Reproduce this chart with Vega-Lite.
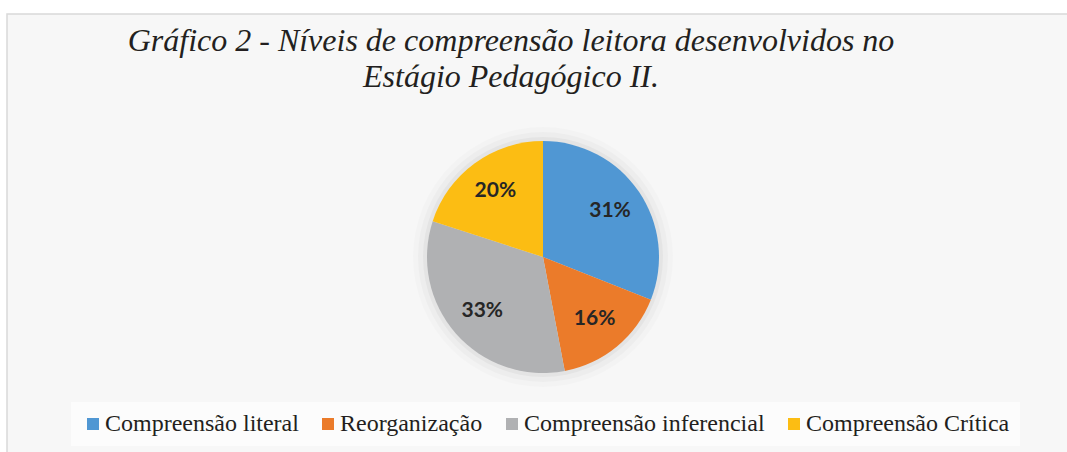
{
  "$schema": "https://vega.github.io/schema/vega-lite/v6.json",
  "width": 1072,
  "height": 486,
  "autosize": {"type": "none"},
  "padding": {"left": 7, "top": 14, "right": 0, "bottom": 0},
  "background": "#ffffff",
  "view": {"fill": "#f7f7f7", "stroke": "#d9d9d9", "strokeWidth": 1.5},
  "title": {
    "text": ["Gráfico 2 - Níveis de compreensão leitora desenvolvidos no", "Estágio Pedagógico II."],
    "anchor": "middle",
    "frame": "group",
    "offset": -80,
    "dx": -32,
    "font": "Liberation Serif",
    "fontStyle": "italic",
    "fontWeight": "normal",
    "fontSize": 32,
    "lineHeight": 36.5,
    "color": "#231f20"
  },
  "data": {
    "values": [
      {"nivel": "Compreensão literal", "v": 0.31, "o": 1},
      {"nivel": "Reorganização", "v": 0.16, "o": 2},
      {"nivel": "Compreensão inferencial", "v": 0.33, "o": 3},
      {"nivel": "Compreensão Crítica", "v": 0.20, "o": 4}
    ]
  },
  "layer": [
    {
      "data": {"values": [{"s": 1}]},
      "mark": {"type": "arc", "radius": 130, "fill": "#000000", "opacity": 0.015},
      "encoding": {"theta": {"field": "s", "type": "quantitative"}}
    },
    {
      "data": {"values": [{"s": 1}]},
      "mark": {"type": "arc", "radius": 125, "fill": "#000000", "opacity": 0.025},
      "encoding": {"theta": {"field": "s", "type": "quantitative"}}
    },
    {
      "data": {"values": [{"s": 1}]},
      "mark": {"type": "arc", "radius": 120, "fill": "#000000", "opacity": 0.035},
      "encoding": {"theta": {"field": "s", "type": "quantitative"}}
    },
    {
      "mark": {"type": "arc", "radius": 116},
      "encoding": {
        "theta": {"field": "v", "type": "quantitative", "stack": true},
        "order": {"field": "o", "type": "quantitative"},
        "color": {
          "field": "nivel",
          "type": "nominal",
          "sort": ["Compreensão literal", "Reorganização", "Compreensão inferencial", "Compreensão Crítica"],
          "scale": {
            "domain": ["Compreensão literal", "Reorganização", "Compreensão inferencial", "Compreensão Crítica"],
            "range": ["#5097d3", "#eb7b2a", "#b0b1b3", "#fcbd13"]
          },
          "legend": {
            "orient": "none",
            "legendX": 64,
            "legendY": 388,
            "direction": "horizontal",
            "columns": 4,
            "title": null,
            "symbolType": "square",
            "symbolSize": 144,
            "symbolStrokeWidth": 0,
            "labelFont": "Liberation Serif",
            "labelFontSize": 24,
            "labelColor": "#231f20",
            "labelLimit": 400,
            "labelOffset": 0,
            "columnPadding": 17,
            "fillColor": "#fcfcfc",
            "padding": 10
          }
        }
      }
    },
    {
      "mark": {"type": "text", "radius": 81, "font": "Lato", "fontWeight": "bold", "fontSize": 21, "color": "#262626"},
      "encoding": {
        "theta": {"field": "v", "type": "quantitative", "stack": true},
        "order": {"field": "o", "type": "quantitative"},
        "text": {"field": "v", "type": "quantitative", "format": ".0%"}
      }
    }
  ]
}
